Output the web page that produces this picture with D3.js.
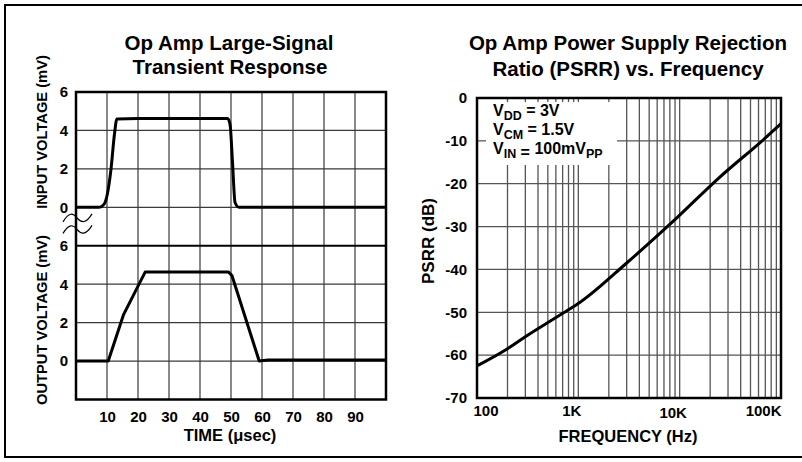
<!DOCTYPE html>
<meta charset="utf-8">
<style>
  body { margin: 0; background: #fff; }
  svg { display: block; font-family: "Liberation Sans", Arial, Helvetica, sans-serif; font-weight: bold; }
  .grid line { stroke: #555; stroke-width: 1.3; }
  .gridL line { stroke: #3a3a3a; stroke-width: 1.2; }
  .axis text { font-size: 15px; font-weight: bold; fill: #000; font-family: "Liberation Sans", Arial, sans-serif; }
  .axis .domain, .axis line { display: none; }
</style>
<body>
<svg id="chart" width="802" height="462"></svg>
<script src="https://cdn.jsdelivr.net/npm/d3@7"></script>
<script>
// ---- data: transient response ----
var timeTicks = [10, 20, 30, 40, 50, 60, 70, 80, 90];
var voltTicks = [0, 2, 4, 6];
var inTime  = [0, 7.5, 9, 10, 11.3, 12.4, 13.2, 20, 30, 40, 48.9, 49.7, 50.5, 51.3, 52.6, 60, 100];
var inVolt  = [0, 0, 0.15, 0.6, 2, 3.8, 4.6, 4.62, 4.62, 4.62, 4.62, 4.3, 2.3, 0.25, 0, 0, 0];
var outTime = [0, 10.4, 15.3, 22.3, 49.2, 50.3, 59.1, 62, 100];
var outVolt = [0, 0, 2.4, 4.63, 4.63, 4.45, 0, 0.05, 0.05];

// ---- data: PSRR vs frequency ----
var freqTicks = [100, 1000, 10000, 100000];
var freqLabels = ["100", "1K", "10K", "100K"];
var dbTicks = [0, -10, -20, -30, -40, -50, -60, -70];
var psrrFreq = [100, 200, 300, 550, 830, 1050, 3000, 8600, 24000, 71000, 100000];
var psrrDb   = [-62.5, -58.5, -55.7, -51.8, -49.2, -47.6, -38.5, -28.8, -18.8, -9.2, -6];

var svg = d3.select("#chart");

// outer frame
svg.append("path")
  .attr("d", "M802,5 H5 V457 H802")
  .attr("fill", "none").attr("stroke", "#000").attr("stroke-width", 2);

// ================= left chart =================
var L = {x0: 76, x1: 386, y0: 92, y1: 399.5};
var x = d3.scaleLinear().domain([0, 100]).range([L.x0, L.x1]);
var row = (L.y1 - L.y0) / 8;
var yIn = d3.scaleLinear().domain([0, 6]).range([L.y0 + 3 * row, L.y0]);
var yOut = d3.scaleLinear().domain([-2, 6]).range([L.y1, L.y0 + 4 * row]);

var gl = svg.append("g").attr("class", "gridL");
gl.selectAll(".v").data(timeTicks).enter().append("line")
  .attr("x1", x).attr("x2", x).attr("y1", L.y0).attr("y2", L.y1);
gl.selectAll(".hi").data([4, 2, 0]).enter().append("line")
  .attr("x1", L.x0).attr("x2", L.x1).attr("y1", yIn).attr("y2", yIn);
gl.selectAll(".ho").data([4, 2, 0]).enter().append("line")
  .attr("x1", L.x0).attr("x2", L.x1).attr("y1", yOut).attr("y2", yOut);
// panel divider at output 6
svg.append("line")
  .attr("x1", L.x0).attr("x2", L.x1).attr("y1", yOut(6)).attr("y2", yOut(6))
  .attr("stroke", "#000").attr("stroke-width", 2.2);

svg.append("rect")
  .attr("x", L.x0).attr("y", L.y0).attr("width", L.x1 - L.x0).attr("height", L.y1 - L.y0)
  .attr("fill", "none").attr("stroke", "#000").attr("stroke-width", 2.5);

// break marks
[yIn(-0.55), yIn(-1.15)].forEach(function(yy) {
  svg.append("path")
    .attr("d", "M63," + (yy + 4) + " C69," + (yy - 6) + " 73," + (yy - 5) + " 77," + yy +
               " S86," + (yy + 6) + " 92," + (yy - 4))
    .attr("fill", "none").attr("stroke", "#000").attr("stroke-width", 1.2);
});

var inLine = d3.line().x(function(d) { return x(d[0]); }).y(function(d) { return yIn(d[1]); })
  .curve(d3.curveMonotoneX);
svg.append("path").datum(d3.zip(inTime, inVolt)).attr("d", inLine)
  .attr("fill", "none").attr("stroke", "#000").attr("stroke-width", 3).attr("stroke-linejoin", "round");

var outLine = d3.line().x(function(d) { return x(d[0]); }).y(function(d) { return yOut(d[1]); });
svg.append("path").datum(d3.zip(outTime, outVolt)).attr("d", outLine)
  .attr("fill", "none").attr("stroke", "#000").attr("stroke-width", 3).attr("stroke-linejoin", "round");

var plain = function(d) { return String(d); };
svg.append("g").attr("class", "axis").attr("transform", "translate(" + L.x0 + ",0)")
  .call(d3.axisLeft(yIn).tickValues(voltTicks).tickFormat(plain).tickSize(0).tickPadding(8));
svg.append("g").attr("class", "axis").attr("transform", "translate(" + L.x0 + ",0)")
  .call(d3.axisLeft(yOut).tickValues(voltTicks).tickFormat(plain).tickSize(0).tickPadding(8));
svg.append("g").attr("class", "axis").attr("transform", "translate(0," + L.y1 + ")")
  .call(d3.axisBottom(x).tickValues(timeTicks).tickFormat(plain).tickSize(0).tickPadding(12));

svg.append("text").attr("x", 229).attr("y", 50).attr("text-anchor", "middle")
  .attr("font-size", 20.5).text("Op Amp Large-Signal");
svg.append("text").attr("x", 230).attr("y", 74).attr("text-anchor", "middle")
  .attr("font-size", 20.5).text("Transient Response");
svg.append("text").attr("x", 230).attr("y", 441).attr("text-anchor", "middle")
  .attr("font-size", 16.5).text("TIME (\u03bcsec)");
svg.append("text").attr("transform", "translate(47,132) rotate(-90)").attr("text-anchor", "middle")
  .attr("font-size", 14.7).text("INPUT VOLTAGE (mV)");
svg.append("text").attr("transform", "translate(47,320) rotate(-90)").attr("text-anchor", "middle")
  .attr("font-size", 14.7).text("OUTPUT VOLTAGE (mV)");

// ================= right chart =================
var R = {x0: 477, x1: 781, y0: 98, y1: 398};
var xf = d3.scaleLog().domain([100, 100000]).range([R.x0, R.x1]);
var yp = d3.scaleLinear().domain([-70, 0]).range([R.y1, R.y0]);

var gr = svg.append("g").attr("class", "grid");
gr.selectAll(".v").data(xf.ticks().filter(function(f) { return f > 100 && f < 100000; }))
  .enter().append("line")
  .attr("x1", xf).attr("x2", xf).attr("y1", R.y0).attr("y2", R.y1);
gr.selectAll(".h").data(dbTicks.slice(1, -1)).enter().append("line")
  .attr("x1", R.x0).attr("x2", R.x1).attr("y1", yp).attr("y2", yp);

// condition box
svg.append("rect").attr("x", 486).attr("y", 102).attr("width", 131).attr("height", 63).attr("fill", "#fff");

svg.append("rect")
  .attr("x", R.x0).attr("y", R.y0).attr("width", R.x1 - R.x0).attr("height", R.y1 - R.y0)
  .attr("fill", "none").attr("stroke", "#000").attr("stroke-width", 2.5);

var psrrLine = d3.line().x(function(d) { return xf(d[0]); }).y(function(d) { return yp(d[1]); })
  .curve(d3.curveMonotoneX);
svg.append("path").datum(d3.zip(psrrFreq, psrrDb)).attr("d", psrrLine)
  .attr("fill", "none").attr("stroke", "#000").attr("stroke-width", 3);

svg.append("g").attr("class", "axis").attr("transform", "translate(" + R.x0 + ",0)")
  .call(d3.axisLeft(yp).tickValues(dbTicks).tickFormat(plain).tickSize(0).tickPadding(10));
var fx = svg.append("g").attr("class", "axis").attr("transform", "translate(0," + R.y1 + ")")
  .call(d3.axisBottom(xf).tickValues(freqTicks).tickSize(0).tickPadding(7)
    .tickFormat(function(d, i) { return freqLabels[i]; }));
fx.selectAll("text")
  .attr("font-size", 16)
  .attr("text-anchor", function(d, i) { return i === 0 ? "start" : i === 3 ? "end" : "middle"; })
  .attr("dx", function(d, i) { return i === 0 ? -4 : i === 3 ? 0 : -7; })
  .attr("dy", function(d, i) { return i === 2 ? "0.85em" : "0.71em"; });

var cond = svg.append("g").attr("font-size", 16);
var t1 = cond.append("text").attr("x", 493).attr("y", 116);
t1.append("tspan").text("V");
t1.append("tspan").attr("font-size", 12.5).attr("dy", 4).text("DD");
t1.append("tspan").attr("dy", -4).text(" = 3V");
var t2 = cond.append("text").attr("x", 493).attr("y", 135);
t2.append("tspan").text("V");
t2.append("tspan").attr("font-size", 12.5).attr("dy", 4).text("CM");
t2.append("tspan").attr("dy", -4).text(" = 1.5V");
var t3 = cond.append("text").attr("x", 493).attr("y", 154);
t3.append("tspan").text("V");
t3.append("tspan").attr("font-size", 12.5).attr("dy", 4).text("IN");
t3.append("tspan").attr("dy", 0).text(" = ");
t3.append("tspan").attr("dy", -4).text("100mV");
t3.append("tspan").attr("font-size", 12.5).attr("dy", 4).text("PP");

svg.append("text").attr("x", 628).attr("y", 50).attr("text-anchor", "middle")
  .attr("font-size", 20.5).text("Op Amp Power Supply Rejection");
svg.append("text").attr("x", 628).attr("y", 76).attr("text-anchor", "middle")
  .attr("font-size", 20.5).text("Ratio (PSRR) vs. Frequency");
svg.append("text").attr("x", 628).attr("y", 442).attr("text-anchor", "middle")
  .attr("font-size", 16.5).text("FREQUENCY (Hz)");
svg.append("text").attr("transform", "translate(434,241) rotate(-90)").attr("text-anchor", "middle")
  .attr("font-size", 17).text("PSRR (dB)");
</script>
</body>
